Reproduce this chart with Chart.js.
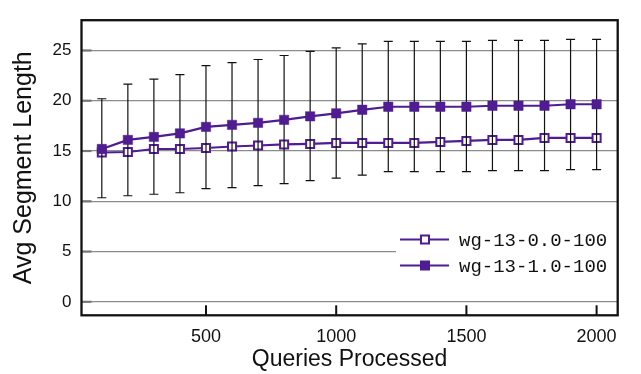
<!DOCTYPE html>
<html>
<head>
<meta charset="utf-8">
<script src="https://cdn.jsdelivr.net/npm/chart.js@4/dist/chart.umd.min.js"></script>
<style>
  html, body { margin: 0; padding: 0; background: #fff; }
  #wrap { width: 641px; height: 374px; }
</style>
</head>
<body>
<div id="wrap"><canvas id="segChart" width="641" height="374"></canvas></div>
<script>
// values
const queries = [100, 200, 300, 400, 500, 600, 700, 800, 900, 1000, 1100, 1200, 1300, 1400, 1500, 1600, 1700, 1800, 1900, 2000];
const wg00 = [14.85, 14.9, 15.2, 15.2, 15.3, 15.45, 15.55, 15.65, 15.7, 15.8, 15.8, 15.8, 15.8, 15.9, 16.0, 16.1, 16.1, 16.3, 16.3, 16.3];
const wg10 = [15.2, 16.1, 16.4, 16.75, 17.4, 17.6, 17.8, 18.1, 18.45, 18.75, 19.1, 19.4, 19.4, 19.4, 19.4, 19.5, 19.5, 19.5, 19.65, 19.65];
const wg10High = [20.2, 21.65, 22.15, 22.6, 23.5, 23.8, 24.1, 24.5, 24.9, 25.25, 25.65, 25.9, 25.9, 25.9, 25.9, 26.0, 26.0, 26.0, 26.1, 26.1];
const wg10Low = [10.35, 10.55, 10.7, 10.85, 11.25, 11.35, 11.55, 11.75, 12.05, 12.3, 12.6, 12.95, 12.95, 12.95, 12.95, 13.05, 13.05, 13.05, 13.15, 13.15];
const xTicks = [500, 1000, 1500, 2000];
const yTicks = [0, 5, 10, 15, 20, 25];
const seriesNames = ['wg-13-0.0-100', 'wg-13-1.0-100'];

const purple = '#4f1c91';

// error bars go on top of the open series, under the filled one
const errorBars = {
    id: 'errorBars',
    afterDatasetDraw(chart, args) {
        if (args.index !== 1) return;
        const ctx = chart.ctx;
        const xs = chart.scales.x, ys = chart.scales.y;
        ctx.save();
        ctx.strokeStyle = '#111';
        ctx.lineWidth = 1.2;
        queries.forEach((q, i) => {
            const px = xs.getPixelForValue(q);
            const top = ys.getPixelForValue(wg10High[i]);
            const bot = ys.getPixelForValue(wg10Low[i]);
            ctx.beginPath();
            ctx.moveTo(px, top); ctx.lineTo(px, bot);
            ctx.moveTo(px - 4.5, top); ctx.lineTo(px + 4.5, top);
            ctx.moveTo(px - 4.5, bot); ctx.lineTo(px + 4.5, bot);
            ctx.stroke();
        });
        ctx.restore();
    }
};

// legend box in the lower right, then frame and inward ticks
const frameAndLegend = {
    id: 'frameAndLegend',
    afterDatasetsDraw(chart) {
        const ctx = chart.ctx;
        const a = chart.chartArea;
        ctx.save();
        ctx.fillStyle = '#fff';
        ctx.fillRect(396, 226, a.right - 396, 52);
        const rows = [239.5, 265.5];
        rows.forEach((y, i) => {
            ctx.strokeStyle = purple;
            ctx.lineWidth = 2.2;
            ctx.beginPath();
            ctx.moveTo(400, y); ctx.lineTo(449, y);
            ctx.stroke();
            if (i === 0) {
                ctx.fillStyle = '#fff';
                ctx.fillRect(421, y - 4, 8, 8);
                ctx.lineWidth = 2;
                ctx.strokeRect(421, y - 4, 8, 8);
            } else {
                ctx.fillStyle = purple;
                ctx.fillRect(420, y - 5, 10, 10);
            }
            ctx.fillStyle = '#111';
            ctx.font = '19px "Liberation Mono", monospace';
            ctx.textBaseline = 'middle';
            ctx.textAlign = 'left';
            ctx.fillText(seriesNames[i], 459, y + 1);
        });
        ctx.restore();
    },
    afterDraw(chart) {
        const ctx = chart.ctx;
        const a = chart.chartArea;
        const xs = chart.scales.x, ys = chart.scales.y;
        ctx.save();
        ctx.strokeStyle = '#777';
        ctx.lineWidth = 2.2;
        yTicks.forEach(v => {
            const py = ys.getPixelForValue(v);
            ctx.beginPath();
            ctx.moveTo(a.left, py); ctx.lineTo(a.left + 10, py);
            ctx.stroke();
        });
        ctx.strokeStyle = '#111';
        ctx.lineWidth = 2;
        xTicks.forEach(v => {
            const px = xs.getPixelForValue(v);
            ctx.beginPath();
            ctx.moveTo(px, a.bottom); ctx.lineTo(px, a.bottom - 10);
            ctx.stroke();
        });
        ctx.lineWidth = 2.3;
        ctx.strokeRect(a.left, a.top, a.right - a.left, a.bottom - a.top);
        ctx.restore();
    }
};

const ctx = document.getElementById('segChart').getContext('2d');

new Chart(ctx, {
    type: 'line',
    data: {
        datasets: [
            {
                label: seriesNames[1],
                data: queries.map((q, i) => ({ x: q, y: wg10[i] })),
                borderColor: purple,
                backgroundColor: purple,
                borderWidth: 2.2,
                pointStyle: 'rect',
                pointRadius: 6.6,
                pointBorderWidth: 0.5,
                pointBackgroundColor: purple,
                pointBorderColor: purple,
                tension: 0
            },
            {
                label: seriesNames[0],
                data: queries.map((q, i) => ({ x: q, y: wg00[i] })),
                borderColor: purple,
                backgroundColor: '#fff',
                borderWidth: 2.2,
                pointStyle: 'rect',
                pointRadius: 5.7,
                pointBorderWidth: 2,
                pointBackgroundColor: '#fff',
                pointBorderColor: purple,
                tension: 0
            }
        ]
    },
    options: {
        responsive: false,
        animation: false,
        layout: {
            padding: { left: 0, top: 9.3, right: 23.3, bottom: 0 }
        },
        plugins: {
            legend: { display: false },
            tooltip: { enabled: false }
        },
        scales: {
            x: {
                type: 'linear',
                min: 22,
                max: 2081,
                afterBuildTicks: scale => { scale.ticks = xTicks.map(v => ({ value: v })); },
                afterFit: scale => { scale.height = 58.7; },
                grid: { display: false },
                border: { display: false },
                ticks: {
                    padding: 3,
                    color: '#111',
                    font: { family: '"Liberation Sans", Arial, sans-serif', size: 18 },
                    maxRotation: 0,
                    callback: v => String(v)
                },
                title: {
                    display: true,
                    text: 'Queries Processed',
                    color: '#111',
                    font: { family: '"Liberation Sans", Arial, sans-serif', size: 23 },
                    padding: { top: 0, bottom: 1 }
                }
            },
            y: {
                type: 'linear',
                min: -1.34,
                max: 28.01,
                afterBuildTicks: scale => { scale.ticks = yTicks.map(v => ({ value: v })); },
                afterFit: scale => { scale.width = 81.5; },
                grid: {
                    color: '#8c8c8c',
                    lineWidth: 1.2,
                    drawTicks: false
                },
                border: { display: false },
                ticks: {
                    padding: 10,
                    color: '#111',
                    font: { family: '"Liberation Sans", Arial, sans-serif', size: 17 }
                },
                title: {
                    display: true,
                    text: 'Avg Segment Length',
                    color: '#111',
                    font: { family: '"Liberation Sans", Arial, sans-serif', size: 25 },
                    padding: { top: 9, bottom: 0 }
                }
            }
        }
    },
    plugins: [errorBars, frameAndLegend]
});
</script>
</body>
</html>
